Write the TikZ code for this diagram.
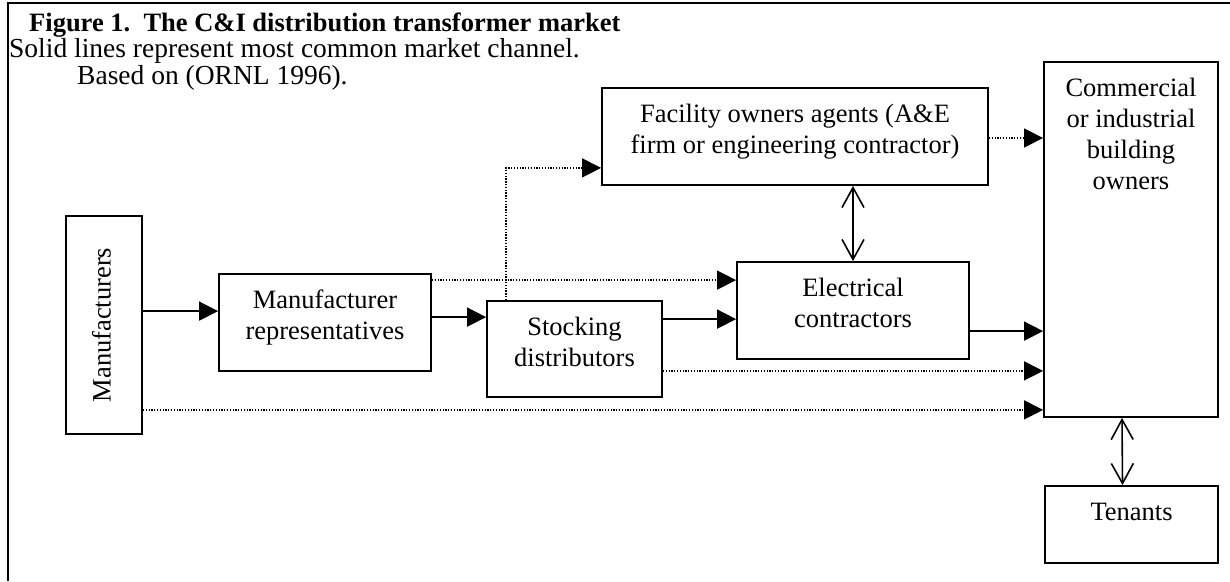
\documentclass[tikz,border=0pt]{standalone}
\usepackage{fontspec}
\setmainfont{Liberation Serif}
\usetikzlibrary{arrows.meta}

\newcommand\boxfont{\fontsize{26.5}{31}\selectfont}
\newcommand\headfont{\fontsize{27.5}{31}\selectfont}
\newcommand\titlefont{\fontsize{26.5}{31}\selectfont\bfseries}

\tikzset{
  box/.style={draw, line width=1.8pt, inner sep=0pt, rectangle},
  txt/.style={inner sep=0pt, align=center, font=\boxfont, anchor=north},
  head/.style={inner sep=0pt, font=\headfont, anchor=base west},
  sol/.style={line width=1.6pt, -{Triangle[length=19pt,width=19pt]}},
  dot/.style={line width=1.3pt, dash pattern=on 1.3pt off 1.5pt,
              -{Triangle[length=19pt,width=19pt]}},
  dbl/.style={line width=1.6pt,
              {Straight Barb[length=20pt,width=22pt,line width=1.6pt]}-{Straight Barb[length=20pt,width=22pt,line width=1.6pt]}},
}

\begin{document}
\begin{tikzpicture}[x=1pt, y=-1pt]
\useasboundingbox (0,0) rectangle (1230,581);

% frame (top and left edges)
\draw[line width=2pt] (8,581) -- (8,3) -- (1230,3);

% caption
\node[head, font=\titlefont] (title) at (29,31)
  {Figure 1.\ \ The C\&I distribution transformer market};
\node[head] (sub1) at (9,57.5) {Solid lines represent most common market channel.};
\node[head] (sub2) at (77,84) {Based on (ORNL 1996).};

% boxes
\node[box, minimum width=76pt,  minimum height=218pt] (manuf) at (104,325) {};
\node[box, minimum width=212pt, minimum height=97pt]  (rep)   at (325,322.5) {};
\node[box, minimum width=175pt, minimum height=96pt]  (stock) at (574.5,349) {};
\node[box, minimum width=386pt, minimum height=97pt]  (fac)   at (795,136.5) {};
\node[box, minimum width=232pt, minimum height=97pt]  (elec)  at (853,310.5) {};
\node[box, minimum width=174pt, minimum height=355pt] (comm)  at (1131,239.5) {};
\node[box, minimum width=173pt, minimum height=77pt]  (ten)   at (1131.5,524.5) {};

% box texts (first baseline 35.5 below the box top)
\node[inner sep=0pt, font=\boxfont, anchor=base, rotate=90] (manuft) at (110.5,325) {Manufacturers};
\node[txt] (rept)   at ([yshift=-13.8pt]rep.north)   {\strut Manufacturer\\representatives};
\node[txt] (stockt) at ([yshift=-13.8pt]stock.north) {\strut Stocking\\distributors};
\node[txt] (fact)   at ([yshift=-13.8pt]fac.north)   {\strut Facility owners agents (A\&E\\firm or engineering contractor)};
\node[txt] (elect)  at ([yshift=-13.8pt]elec.north)  {\strut Electrical\\contractors};
\node[txt] (commt)  at ([yshift=-13.8pt]comm.north)  {\strut Commercial\\or industrial\\building\\owners};
\node[txt] (tent)   at ([yshift=-13.8pt]ten.north)   {\strut Tenants};

% main channel
\coordinate (m1) at ([yshift=-38pt]rep.north west);
\draw[sol] (m1 -| manuf.east) -- (m1);
\coordinate (r1) at ([yshift=-17pt]stock.north west);
\draw[sol] (rep.east |- r1) -- (r1);
\coordinate (s1) at ([yshift=-58pt]elec.north west);
\draw[sol] (stock.east |- s1) -- (s1);
\coordinate (e1) at ([yshift=-70pt]elec.north east);
\draw[sol] (e1) -- (e1 -| comm.west);

% secondary channels
\draw[dot] ([yshift=-7pt]rep.north east) -- ([yshift=-19pt]elec.north west);
\coordinate (d2) at ([xshift=20pt]stock.north west);
\draw[dot] (d2) |- ([yshift=18pt]fac.south west);
\coordinate (d3) at ([yshift=27pt]stock.south east);
\draw[dot] (d3) -- (d3 -| comm.west);
\coordinate (d4) at ([yshift=25pt]manuf.south east);
\draw[dot] (d4) -- (d4 -| comm.west);
\coordinate (d5) at ([yshift=-1.5pt]fac.east);
\draw[dot] (d5) -- (d5 -| comm.west);

% two-way links
\draw[dbl] (elec.north |- fac.south) -- (elec.north);
\draw[dbl] ([xshift=-9pt]comm.south) -- ([xshift=-9pt]ten.north);
\end{tikzpicture}
\end{document}
